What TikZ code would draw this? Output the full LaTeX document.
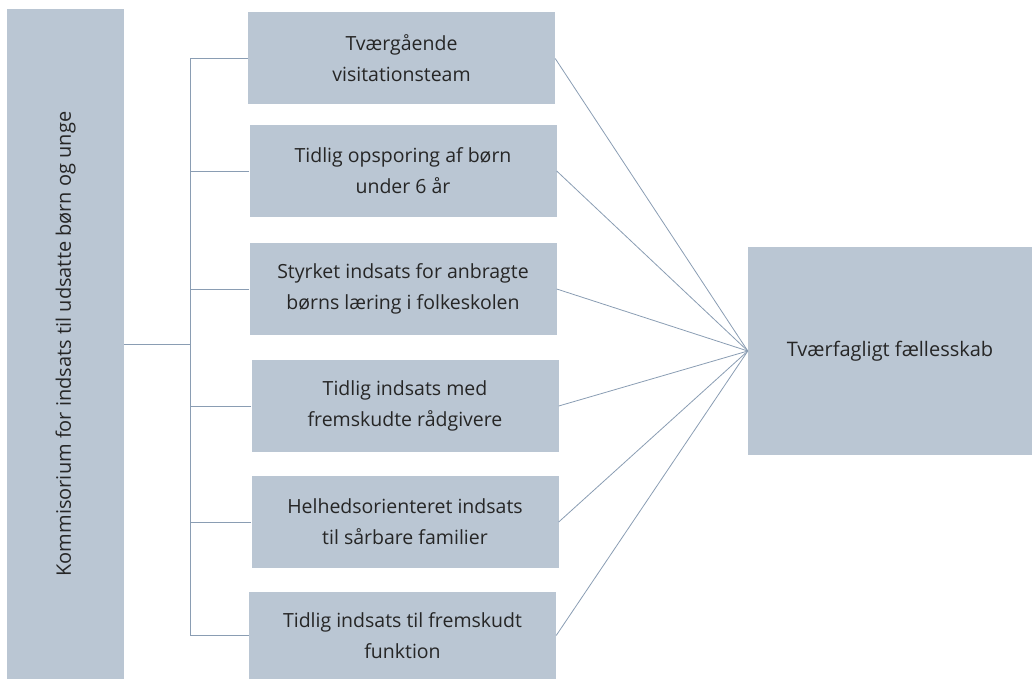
\documentclass[tikz,border=0pt]{standalone}
\usepackage{fontspec}
\setmainfont{Open Sans}
\definecolor{boxfill}{HTML}{BAC6D3}
\definecolor{linkline}{HTML}{8A9DB3}
\definecolor{boxtext}{HTML}{262626}

\begin{document}
\begin{tikzpicture}[x=1pt, y=-1pt,
      every node/.style = {shape=rectangle, fill=boxfill, text=boxtext,
        align=center, inner sep=0pt, font=\fontsize{19.5}{31}\selectfont},
      tiltag/.style = {minimum width=307pt, minimum height=92pt},
      link/.style = {draw=linkline, line width=0.8pt}]
      \useasboundingbox (0,0) rectangle (1032,679);
      \node[rotate=90, minimum width=670pt, minimum height=117pt,
        font=\fontsize{20}{31}\selectfont] (kom) at (65.5,344)
        {Kommisorium for indsats til udsatte børn og unge};
      \node[tiltag] (b1) at (401.5,58.5) {Tværgående\\visitationsteam};
      \node[tiltag] (b2) at (403,171) {Tidlig opsporing af børn\\under 6 år};
      \node[tiltag] (b3) at (403,289) {Styrket indsats for anbragte\\børns læring i folkeskolen};
      \node[tiltag] (b4) at (405,406) {Tidlig indsats med\\fremskudte rådgivere};
      \node[tiltag] (b5) at (405,522) {Helhedsorienteret indsats\\til sårbare familier};
      \node[tiltag, minimum height=87pt] (b6) at (402.5,635.5) {Tidlig indsats til fremskudt\\funktion};
      \node[minimum width=284pt, minimum height=208pt,
        font=\fontsize{20}{31}\selectfont] (tf) at (890,351) {Tværfagligt fællesskab};
      \coordinate (bus) at (190,344);
      \draw[link] (kom.south) -- (bus);
      \draw[link] (b1.west -| bus) -- (b6.west -| bus);
      \foreach \i in {1,...,6} {
        \draw[link] (b\i.west) -- (b\i.west -| bus);
        \draw[link] (b\i.east) -- (tf.west);
      }
  \end{tikzpicture}
\end{document}
